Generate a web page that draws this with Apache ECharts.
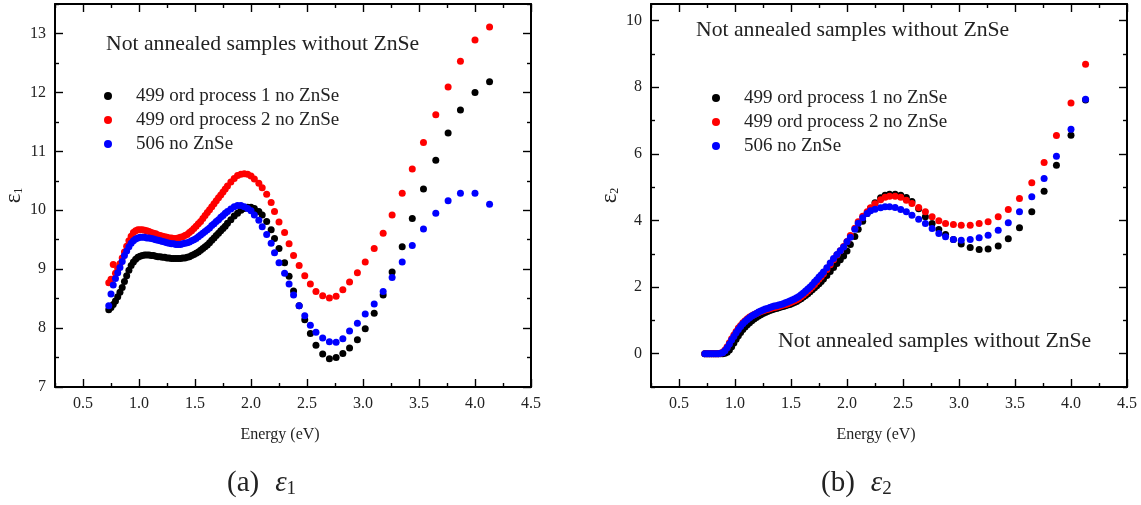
<!DOCTYPE html>
<html>
<head>
<meta charset="utf-8">
<script src="https://cdn.jsdelivr.net/npm/echarts@6/dist/echarts.min.js"></script>
<style>
html,body{margin:0;padding:0;background:#fff;}
#chart{width:1141px;height:505px;}
</style>
</head>
<body>
<div id="chart"></div>
<script>
// ---------- data ----------
const seriesNames = ['499 ord process 1 no ZnSe', '499 ord process 2 no ZnSe', '506 no ZnSe'];

const energy = [
  0.73,0.75,0.77,0.79,0.81,0.83,0.85,0.87,0.89,0.91,
  0.93,0.95,0.97,0.99,1.01,1.03,1.05,1.07,1.09,1.11,
  1.13,1.15,1.17,1.19,1.21,1.23,1.25,1.27,1.29,1.31,
  1.33,1.35,1.37,1.39,1.41,1.43,1.45,1.47,1.49,1.51,
  1.53,1.55,1.57,1.59,1.61,1.63,1.65,1.67,1.69,1.71,
  1.73,1.75,1.77,1.79,
  1.82,1.85,1.88,1.91,1.94,1.97,
  2.00,2.03,2.07,2.10,2.14,2.18,2.21,2.25,2.30,2.34,
  2.38,2.43,2.48,2.53,2.58,2.64,2.70,2.76,2.82,2.88,
  2.95,3.02,3.10,3.18,3.26,3.35,3.44,3.54,3.65,3.76,
  3.87,4.00,4.13
];

// epsilon 1
const e1Black = [
  8.31,8.35,8.40,8.46,8.53,8.61,8.69,8.79,8.89,8.98,
  9.06,9.12,9.17,9.20,9.22,9.23,9.24,9.24,9.24,9.23,
  9.23,9.22,9.21,9.21,9.20,9.20,9.19,9.19,9.18,9.18,
  9.18,9.18,9.18,9.19,9.19,9.20,9.21,9.23,9.25,9.27,
  9.29,9.32,9.35,9.38,9.41,9.45,9.49,9.53,9.57,9.61,
  9.65,9.69,9.73,9.78,
  9.84,9.90,9.95,10.00,10.03,10.05,
  10.05,10.03,9.98,9.92,9.81,9.67,9.52,9.35,9.11,8.88,
  8.63,8.38,8.14,7.91,7.71,7.56,7.48,7.50,7.57,7.66,
  7.80,7.99,8.25,8.56,8.95,9.38,9.86,10.36,10.85,11.31,
  11.70,12.00,12.18
];
const e1Red = [
  8.77,8.83,9.08,8.93,9.01,9.09,9.19,9.29,9.39,9.48,
  9.56,9.62,9.65,9.67,9.67,9.67,9.66,9.65,9.64,9.62,
  9.61,9.60,9.58,9.57,9.56,9.55,9.54,9.53,9.53,9.52,
  9.52,9.53,9.54,9.55,9.57,9.59,9.62,9.65,9.69,9.73,
  9.77,9.81,9.86,9.91,9.96,10.01,10.06,10.11,10.16,10.21,
  10.26,10.31,10.36,10.41,
  10.48,10.54,10.59,10.61,10.62,10.61,
  10.58,10.53,10.46,10.38,10.27,10.13,9.98,9.80,9.62,9.43,
  9.23,9.06,8.89,8.75,8.62,8.55,8.51,8.54,8.65,8.78,
  8.94,9.12,9.35,9.61,9.92,10.29,10.70,11.15,11.62,12.09,
  12.53,12.89,13.11
];
const e1Blue = [
  8.38,8.58,8.73,8.84,8.94,9.03,9.13,9.23,9.31,9.38,
  9.44,9.48,9.51,9.53,9.54,9.54,9.54,9.53,9.53,9.52,
  9.51,9.50,9.49,9.48,9.47,9.46,9.45,9.44,9.43,9.43,
  9.42,9.42,9.42,9.43,9.44,9.45,9.46,9.48,9.50,9.52,
  9.55,9.58,9.61,9.64,9.67,9.70,9.74,9.77,9.81,9.84,
  9.88,9.91,9.95,9.98,
  10.02,10.06,10.08,10.08,10.06,10.03,
  9.99,9.92,9.83,9.72,9.59,9.44,9.28,9.11,8.93,8.75,
  8.56,8.38,8.21,8.05,7.93,7.83,7.77,7.76,7.82,7.95,
  8.08,8.24,8.41,8.62,8.86,9.12,9.40,9.68,9.95,10.16,
  10.29,10.29,10.10
];

// epsilon 2
const e2Black = [
  0,0,0,0,0,0,0,0,0,0.01,
  0.04,0.11,0.21,0.32,0.43,0.54,0.64,0.73,0.80,0.87,
  0.93,0.99,1.04,1.09,1.13,1.17,1.21,1.24,1.27,1.30,
  1.32,1.34,1.36,1.38,1.40,1.42,1.44,1.46,1.48,1.51,
  1.54,1.57,1.61,1.65,1.70,1.75,1.80,1.86,1.92,1.98,
  2.04,2.10,2.17,2.24,
  2.35,2.47,2.59,2.71,2.82,2.93,
  3.08,3.28,3.52,3.74,3.98,4.21,4.37,4.53,4.68,4.76,
  4.79,4.79,4.76,4.69,4.57,4.35,4.11,3.91,3.73,3.58,
  3.43,3.29,3.19,3.13,3.14,3.23,3.45,3.78,4.26,4.88,
  5.66,6.56,7.62
];
const e2Red = [
  0,0,0,0,0,0,0,0.01,0.04,0.11,
  0.21,0.33,0.45,0.56,0.67,0.77,0.85,0.93,0.99,1.05,
  1.10,1.14,1.18,1.21,1.24,1.27,1.29,1.31,1.33,1.35,
  1.37,1.39,1.40,1.42,1.44,1.46,1.48,1.50,1.53,1.56,
  1.59,1.62,1.66,1.71,1.76,1.82,1.88,1.94,2.01,2.08,
  2.16,2.24,2.32,2.40,
  2.53,2.67,2.82,2.96,3.09,3.22,
  3.37,3.55,3.77,3.96,4.13,4.26,4.38,4.50,4.62,4.70,
  4.73,4.73,4.70,4.61,4.51,4.39,4.26,4.11,3.99,3.91,
  3.88,3.86,3.86,3.91,3.96,4.11,4.33,4.66,5.13,5.74,
  6.55,7.53,8.69
];
const e2Blue = [
  0,0,0,0,0,0,0,0.01,0.03,0.09,
  0.18,0.29,0.41,0.52,0.63,0.73,0.82,0.90,0.97,1.03,
  1.08,1.13,1.17,1.21,1.25,1.28,1.31,1.34,1.36,1.39,
  1.41,1.43,1.44,1.46,1.48,1.50,1.53,1.55,1.58,1.61,
  1.64,1.68,1.72,1.77,1.82,1.88,1.94,2.00,2.07,2.15,
  2.22,2.30,2.37,2.45,
  2.58,2.72,2.86,2.98,3.09,3.20,
  3.36,3.50,3.74,3.92,4.08,4.21,4.29,4.34,4.38,4.41,
  4.41,4.39,4.33,4.26,4.16,4.04,3.91,3.76,3.61,3.51,
  3.43,3.41,3.43,3.48,3.56,3.71,3.93,4.26,4.71,5.26,
  5.93,6.74,7.64
];

// axis ticks
const xMajor = [0.5,1.0,1.5,2.0,2.5,3.0,3.5,4.0,4.5];
const xMinor = [0.25,0.75,1.25,1.75,2.25,2.75,3.25,3.75,4.25];
const y1Major = [7,8,9,10,11,12,13];
const y1Minor = [7.5,8.5,9.5,10.5,11.5,12.5,13.5];
const y2Major = [0,2,4,6,8,10];
const y2Minor = [-1,1,3,5,7,9];

const annotation = 'Not annealed samples without ZnSe';
const xTitle = 'Energy (eV)';

// ---------- chart ----------
const FONT = 'Liberation Serif';
const colors = ['#000000', '#ff0000', '#0000ff'];
const chart = echarts.init(document.getElementById('chart'), null, {renderer: 'canvas'});

const grids = [
  {left: 55, top: 4, width: 476, height: 383},
  {left: 651, top: 4, width: 476, height: 383}
];

function mkX(gi, pos, ticks, len, showLine, showLabel) {
  const a = {
    type: 'value', gridIndex: gi, min: 0.25, max: 4.5, position: pos,
    axisLine: {show: showLine, onZero: false, lineStyle: {color: '#000', width: 2}},
    axisTick: {show: true, inside: true, length: len, customValues: ticks, lineStyle: {color: '#000', width: 1.4}},
    axisLabel: {show: showLabel, customValues: ticks, formatter: v => v.toFixed(1), margin: 9,
      fontSize: 16, color: '#222', fontFamily: FONT},
    splitLine: {show: false}
  };
  if (showLabel) {
    a.name = xTitle; a.nameLocation = 'middle'; a.nameGap = 40;
    a.nameTextStyle = {fontSize: 16, color: '#222', fontFamily: FONT, padding: [0, 26, 0, 0]};
  }
  return a;
}
function mkY(gi, pos, min, max, ticks, len, showLine, showLabel, sub) {
  const a = {
    type: 'value', gridIndex: gi, min: min, max: max, position: pos,
    axisLine: {show: showLine, onZero: false, lineStyle: {color: '#000', width: 2}},
    axisTick: {show: true, inside: true, length: len, customValues: ticks, lineStyle: {color: '#000', width: 1.4}},
    axisLabel: {show: showLabel, customValues: ticks, formatter: v => String(v), margin: 9,
      fontSize: 16, color: '#222', fontFamily: FONT},
    splitLine: {show: false}
  };
  if (showLabel) {
    a.name = '{e|ε}{s|' + sub + '}'; a.nameLocation = 'middle'; a.nameGap = 30; a.nameRotate = 90;
    a.nameTextStyle = {rich: {
      e: {fontSize: 23, fontFamily: FONT, color: '#222'},
      s: {fontSize: 12, fontFamily: FONT, color: '#222', padding: [11, 0, 0, 0]}
    }};
  }
  return a;
}

const xAxes = [], yAxes = [];
[0, 1].forEach(gi => {
  xAxes.push(mkX(gi, 'bottom', xMajor, 8, true, true));
  xAxes.push(mkX(gi, 'bottom', xMinor, 4, false, false));
  xAxes.push(mkX(gi, 'top', xMajor, 8, true, false));
  xAxes.push(mkX(gi, 'top', xMinor, 4, false, false));
});
yAxes.push(mkY(0, 'left', 7, 13.5, y1Major, 8, true, true, '1'));
yAxes.push(mkY(0, 'left', 7, 13.5, y1Minor, 4, false, false));
yAxes.push(mkY(0, 'right', 7, 13.5, y1Major, 8, true, false));
yAxes.push(mkY(0, 'right', 7, 13.5, y1Minor, 4, false, false));
yAxes.push(mkY(1, 'left', -1, 10.5, y2Major, 8, true, true, '2'));
yAxes.push(mkY(1, 'left', -1, 10.5, y2Minor, 4, false, false));
yAxes.push(mkY(1, 'right', -1, 10.5, y2Major, 8, true, false));
yAxes.push(mkY(1, 'right', -1, 10.5, y2Minor, 4, false, false));

function pts(ys) { return energy.map((e, i) => [e, ys[i]]); }
const sets = [[e1Black, e1Red, e1Blue], [e2Black, e2Red, e2Blue]];
const series = [];
[0, 1].forEach(gi => {
  sets[gi].forEach((ys, k) => {
    series.push({
      type: 'scatter', name: seriesNames[k], xAxisIndex: gi * 4, yAxisIndex: gi * 4,
      data: pts(ys), symbol: 'circle', symbolSize: 7,
      itemStyle: {color: colors[k], opacity: 1}, emphasis: {disabled: true}
    });
  });
});

function legend(left, top) {
  return {
    data: seriesNames, left: left, top: top, orient: 'vertical', padding: 0, itemGap: 0,
    icon: 'circle', itemWidth: 46, itemHeight: 8,
    textStyle: {fontSize: 19, fontFamily: FONT, color: '#222', lineHeight: 24}
  };
}

function txt(x, y, s, size) {
  return {type: 'text', x: x, y: y, silent: true,
    style: {text: s, fontSize: size, fontFamily: FONT, fill: '#222', verticalAlign: 'middle', align: 'left'}};
}
function caption(x, y, lab, sub) {
  return {type: 'text', x: x, y: y, silent: true,
    style: {text: '{a|' + lab + '}{g| }{e|ε}{s|' + sub + '}', verticalAlign: 'middle', align: 'left', fill: '#222',
      rich: {
        a: {fontSize: 29, fontFamily: FONT, fill: '#222'},
        g: {fontSize: 29, fontFamily: FONT, width: 16},
        e: {fontSize: 29, fontFamily: FONT, fontStyle: 'italic', fill: '#222'},
        s: {fontSize: 19, fontFamily: FONT, fill: '#222', padding: [12, 0, 0, 0]}
      }}};
}

chart.setOption({
  animation: false,
  backgroundColor: '#fff',
  grid: grids.map(g => Object.assign({outerBoundsMode: 'none', containLabel: false}, g)),
  xAxis: xAxes,
  yAxis: yAxes,
  legend: [legend(104, 84), legend(712, 86)],
  series: series,
  graphic: [
    txt(106, 44, annotation, 21.7),
    txt(696, 30, annotation, 21.7),
    txt(778, 341, annotation, 21.7),
    caption(227, 483, '(a)', '1'),
    caption(821, 483, '(b)', '2')
  ]
});
</script>
</body>
</html>
